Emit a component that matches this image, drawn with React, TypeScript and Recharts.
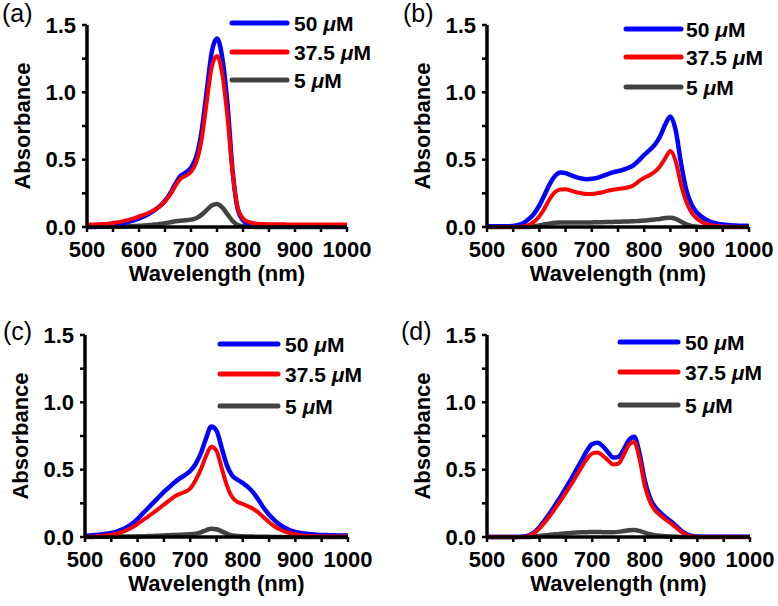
import React from 'react';
import { LineChart, Line, XAxis, YAxis } from 'recharts';

const WAVELENGTHS = [500, 510, 520, 530, 540, 550, 560, 570, 580, 590, 600, 610, 620, 630, 640, 650, 660, 670, 680, 690, 700, 710, 720, 730, 740, 750, 760, 770, 780, 790, 800, 810, 820, 830, 840, 850, 860, 870, 880, 890, 900, 910, 920, 930, 940, 950, 960, 970, 980, 990, 1000];
const X_TICKS = [500, 550, 600, 650, 700, 750, 800, 850, 900, 950, 1000];
const X_MAJOR = [500, 600, 700, 800, 900, 1000];
const Y_TICKS = [0, 0.25, 0.5, 0.75, 1, 1.25, 1.5];
const Y_MAJOR = [0, 0.5, 1, 1.5];
const SERIES_NAMES = ['50', '37.5', '5'];
const PANEL_LABELS = ['(a)', '(b)', '(c)', '(d)'];
const X_TITLE = 'Wavelength (nm)';
const Y_TITLE = 'Absorbance';

// Panel (a)
const A_50 = [0.000, 0.002, 0.004, 0.007, 0.010, 0.014, 0.020, 0.028, 0.038, 0.050, 0.064, 0.080, 0.100, 0.125, 0.155, 0.195, 0.250, 0.320, 0.380, 0.405, 0.440, 0.520, 0.700, 1.000, 1.300, 1.400, 1.260, 0.920, 0.420, 0.130, 0.050, 0.020, 0.010, 0.007, 0.005, 0.005, 0.004, 0.004, 0.004, 0.004, 0.004, 0.003, 0.003, 0.003, 0.003, 0.003, 0.003, 0.003, 0.003, 0.003, 0.003];
const A_375 = [0.018, 0.019, 0.020, 0.022, 0.025, 0.030, 0.036, 0.044, 0.053, 0.064, 0.078, 0.092, 0.108, 0.128, 0.152, 0.190, 0.240, 0.305, 0.360, 0.380, 0.410, 0.480, 0.640, 0.920, 1.190, 1.270, 1.140, 0.820, 0.400, 0.140, 0.065, 0.038, 0.028, 0.024, 0.022, 0.021, 0.020, 0.020, 0.020, 0.019, 0.019, 0.019, 0.018, 0.018, 0.018, 0.018, 0.018, 0.018, 0.018, 0.018, 0.018];
const A_5 = [0.000, 0.000, 0.001, 0.001, 0.002, 0.002, 0.003, 0.004, 0.005, 0.007, 0.009, 0.011, 0.014, 0.018, 0.022, 0.028, 0.035, 0.042, 0.047, 0.050, 0.055, 0.065, 0.090, 0.125, 0.160, 0.170, 0.145, 0.095, 0.045, 0.015, 0.005, 0.002, 0.001, 0.000, 0.000, 0, 0, 0, 0, 0, 0, 0, 0, 0, 0, 0, 0, 0, 0, 0, 0];

// Panel (b)
const B_50 = [0.005, 0.005, 0.005, 0.005, 0.006, 0.008, 0.015, 0.030, 0.060, 0.100, 0.160, 0.240, 0.320, 0.380, 0.405, 0.400, 0.385, 0.370, 0.360, 0.355, 0.358, 0.365, 0.378, 0.392, 0.405, 0.415, 0.425, 0.440, 0.460, 0.495, 0.535, 0.570, 0.610, 0.670, 0.760, 0.820, 0.720, 0.480, 0.280, 0.170, 0.110, 0.075, 0.050, 0.035, 0.025, 0.018, 0.014, 0.012, 0.010, 0.009, 0.008];
const B_375 = [0, 0, 0, 0, 0, 0, 0, 0.005, 0.015, 0.040, 0.080, 0.140, 0.210, 0.260, 0.278, 0.280, 0.270, 0.258, 0.250, 0.245, 0.245, 0.250, 0.258, 0.268, 0.276, 0.282, 0.288, 0.295, 0.310, 0.340, 0.365, 0.385, 0.410, 0.450, 0.510, 0.565, 0.490, 0.320, 0.190, 0.110, 0.065, 0.038, 0.022, 0.012, 0.007, 0.004, 0.002, 0.001, 0, 0, 0];
const B_5 = [0, 0, 0, 0, 0, 0, 0, 0, 0, 0.005, 0.012, 0.020, 0.027, 0.032, 0.034, 0.034, 0.034, 0.034, 0.034, 0.034, 0.034, 0.035, 0.036, 0.037, 0.038, 0.039, 0.040, 0.041, 0.043, 0.045, 0.048, 0.052, 0.056, 0.060, 0.066, 0.068, 0.060, 0.040, 0.020, 0.008, 0.003, 0, 0, 0, 0, 0, 0, 0, 0, 0, 0];

// Panel (c)
const C_50 = [0.010, 0.012, 0.015, 0.019, 0.024, 0.030, 0.040, 0.055, 0.075, 0.100, 0.135, 0.175, 0.215, 0.255, 0.295, 0.335, 0.370, 0.405, 0.435, 0.460, 0.490, 0.540, 0.620, 0.730, 0.820, 0.790, 0.660, 0.530, 0.455, 0.425, 0.400, 0.370, 0.330, 0.275, 0.215, 0.165, 0.125, 0.092, 0.068, 0.050, 0.038, 0.030, 0.024, 0.020, 0.017, 0.015, 0.014, 0.013, 0.012, 0.012, 0.012];
const C_375 = [0.000, 0.002, 0.004, 0.007, 0.011, 0.016, 0.024, 0.036, 0.052, 0.072, 0.098, 0.125, 0.152, 0.180, 0.210, 0.240, 0.270, 0.300, 0.320, 0.335, 0.360, 0.420, 0.500, 0.600, 0.670, 0.640, 0.510, 0.380, 0.295, 0.260, 0.245, 0.228, 0.208, 0.180, 0.145, 0.110, 0.080, 0.057, 0.040, 0.028, 0.020, 0.014, 0.010, 0.007, 0.005, 0.004, 0.003, 0.003, 0.003, 0.003, 0.003];
const C_5 = [0.000, 0.000, 0.001, 0.001, 0.002, 0.002, 0.003, 0.003, 0.004, 0.004, 0.005, 0.006, 0.007, 0.008, 0.010, 0.011, 0.013, 0.015, 0.017, 0.018, 0.020, 0.025, 0.035, 0.050, 0.062, 0.058, 0.042, 0.024, 0.012, 0.007, 0.005, 0.004, 0.003, 0.002, 0.002, 0.001, 0, 0, 0, 0, 0, 0, 0, 0, 0, 0, 0, 0, 0, 0, 0];

// Panel (d)
const D_50 = [0, 0, 0, 0, 0, 0, 0, 0.003, 0.012, 0.035, 0.075, 0.125, 0.180, 0.240, 0.300, 0.365, 0.430, 0.500, 0.570, 0.640, 0.690, 0.700, 0.675, 0.630, 0.590, 0.595, 0.650, 0.720, 0.745, 0.620, 0.420, 0.290, 0.220, 0.180, 0.145, 0.115, 0.080, 0.045, 0.020, 0.008, 0.003, 0.002, 0.002, 0.002, 0.002, 0.002, 0.002, 0.002, 0.002, 0.002, 0.002];
const D_375 = [0, 0, 0, 0, 0, 0, 0, 0, 0.008, 0.028, 0.065, 0.110, 0.160, 0.215, 0.270, 0.330, 0.390, 0.455, 0.520, 0.580, 0.620, 0.628, 0.605, 0.570, 0.538, 0.545, 0.610, 0.685, 0.705, 0.580, 0.380, 0.260, 0.195, 0.160, 0.128, 0.100, 0.068, 0.036, 0.014, 0.004, 0.001, 0, 0, 0, 0, 0, 0, 0, 0, 0, 0];
const D_5 = [0, 0, 0, 0, 0, 0, 0, 0, 0, 0.003, 0.008, 0.012, 0.016, 0.020, 0.024, 0.027, 0.030, 0.033, 0.035, 0.036, 0.037, 0.037, 0.036, 0.035, 0.035, 0.038, 0.044, 0.050, 0.052, 0.045, 0.032, 0.020, 0.013, 0.009, 0.006, 0.004, 0.002, 0, 0, 0, 0, 0, 0, 0, 0, 0, 0, 0, 0, 0, 0];

const PANEL_SERIES = [
  [A_50, A_375, A_5],
  [B_50, B_375, B_5],
  [C_50, C_375, C_5],
  [D_50, D_375, D_5],
];

const COLORS = ['#0000ff', '#ff0000', '#424242'];
const WIDTHS = [4.5, 4, 4.5];
const FONT = 'Arial, "Liberation Sans", Helvetica, sans-serif';

const CHART_W = 389;
const CHART_H = 303;
const Y_AXIS_W = 60;
const X_AXIS_H = 50;

type Layout = {
  left: number;
  top: number;
  margin: { top: number; right: number; bottom: number; left: number };
  legend: { x1: number; x2: number; tx: number; ys: number[] };
  title: { x: number; y: number };
};

const LAYOUTS: Layout[] = [
  { left: 0, top: 0, margin: { top: 25, right: 42, bottom: 26, left: 27 }, legend: { x1: 232, x2: 287, tx: 294, ys: [23, 52, 80] }, title: { x: 2, y: 22 } },
  { left: 389, top: 0, margin: { top: 25, right: 29, bottom: 26, left: 38 }, legend: { x1: 237, x2: 292, tx: 297, ys: [29, 57, 87] }, title: { x: 14, y: 22 } },
  { left: 0, top: 303, margin: { top: 32, right: 41, bottom: 19, left: 25 }, legend: { x1: 220, x2: 278, tx: 285, ys: [41, 71, 103] }, title: { x: 3, y: 37 } },
  { left: 389, top: 303, margin: { top: 32, right: 28, bottom: 19, left: 38 }, legend: { x1: 231, x2: 289, tx: 296, ys: [39, 69, 102] }, title: { x: 12, y: 37 } },
];

const tickStyle = { fill: '#000', fontSize: 22, fontWeight: 'bold', fontFamily: FONT };

function Panel({ idx }: { idx: number }) {
  const lay = LAYOUTS[idx];
  const [s50, s375, s5] = PANEL_SERIES[idx];
  const rows = WAVELENGTHS.map((w, i) => ({ w, c50: s50[i], c375: s375[i], c5: s5[i] }));
  const plotLeft = lay.margin.left + Y_AXIS_W;
  const plotTop = lay.margin.top;
  const plotRight = CHART_W - lay.margin.right;
  const plotBottom = CHART_H - lay.margin.bottom - X_AXIS_H;
  const yTitle = () => {
    const x = plotLeft - 57;
    const y = (plotTop + plotBottom) / 2;
    return (
      <text x={x} y={y} transform={`rotate(-90 ${x} ${y})`} textAnchor="middle" fontFamily={FONT} fontWeight="bold" fontSize={22} fill="#000">
        {Y_TITLE}
      </text>
    );
  };
  const xTitle = () => (
    <text x={(plotLeft + plotRight) / 2} y={plotBottom + 54} textAnchor="middle" fontFamily={FONT} fontWeight="bold" fontSize={22} fill="#000">
      {X_TITLE}
    </text>
  );
  const keys = ['c50', 'c375', 'c5'];
  const drawOrder = [2, 0, 1];
  return (
    <div style={{ position: 'absolute', left: lay.left, top: lay.top, width: CHART_W, height: CHART_H }}>
      <LineChart width={CHART_W} height={CHART_H} data={rows} margin={lay.margin}>
        <XAxis
          dataKey="w"
          type="number"
          domain={[500, 1000]}
          ticks={X_TICKS}
          interval={0}
          height={X_AXIS_H}
          tickFormatter={(v: number) => (X_MAJOR.includes(v) ? String(v) : '')}
          tick={tickStyle}
          tickSize={5}
          tickMargin={9}
          axisLine={{ stroke: '#000', strokeWidth: 3.5 }}
          tickLine={{ stroke: '#000', strokeWidth: 2.5 }}
          label={{ content: xTitle }}
        />
        <YAxis
          type="number"
          domain={[0, 1.5]}
          ticks={Y_TICKS}
          interval={0}
          width={Y_AXIS_W}
          tickFormatter={(v: number) => (Y_MAJOR.includes(v) ? v.toFixed(1) : '')}
          tick={tickStyle}
          tickSize={5}
          tickMargin={6}
          axisLine={{ stroke: '#000', strokeWidth: 3.5 }}
          tickLine={{ stroke: '#000', strokeWidth: 2.5 }}
          label={{ content: yTitle }}
        />
        {drawOrder.map((k) => (
          <Line
            key={keys[k]}
            dataKey={keys[k]}
            type="monotone"
            stroke={COLORS[k]}
            strokeWidth={WIDTHS[k]}
            dot={false}
            activeDot={false}
            isAnimationActive={false}
          />
        ))}
      </LineChart>
      <svg width={CHART_W} height={CHART_H} style={{ position: 'absolute', left: 0, top: 0, pointerEvents: 'none' }}>
        <text x={lay.title.x} y={lay.title.y} fontFamily={FONT} fontSize={25} fill="#000">
          {PANEL_LABELS[idx]}
        </text>
        {SERIES_NAMES.map((name, i) => (
          <g key={name}>
            <line x1={lay.legend.x1} x2={lay.legend.x2} y1={lay.legend.ys[i]} y2={lay.legend.ys[i]} stroke={COLORS[i]} strokeWidth={5} strokeLinecap="round" />
            <text x={lay.legend.tx} y={lay.legend.ys[i] + 7.5} fontFamily={FONT} fontWeight="bold" fontSize={21} fill="#000">
              {name + ' '}
              <tspan fontStyle="italic">μ</tspan>
              M
            </text>
          </g>
        ))}
      </svg>
    </div>
  );
}

export default function App() {
  return (
    <div style={{ position: 'absolute', left: 0, top: 0, width: 778, height: 606, background: '#fff', overflow: 'hidden' }}>
      {[0, 1, 2, 3].map((i) => (
        <Panel key={i} idx={i} />
      ))}
    </div>
  );
}
